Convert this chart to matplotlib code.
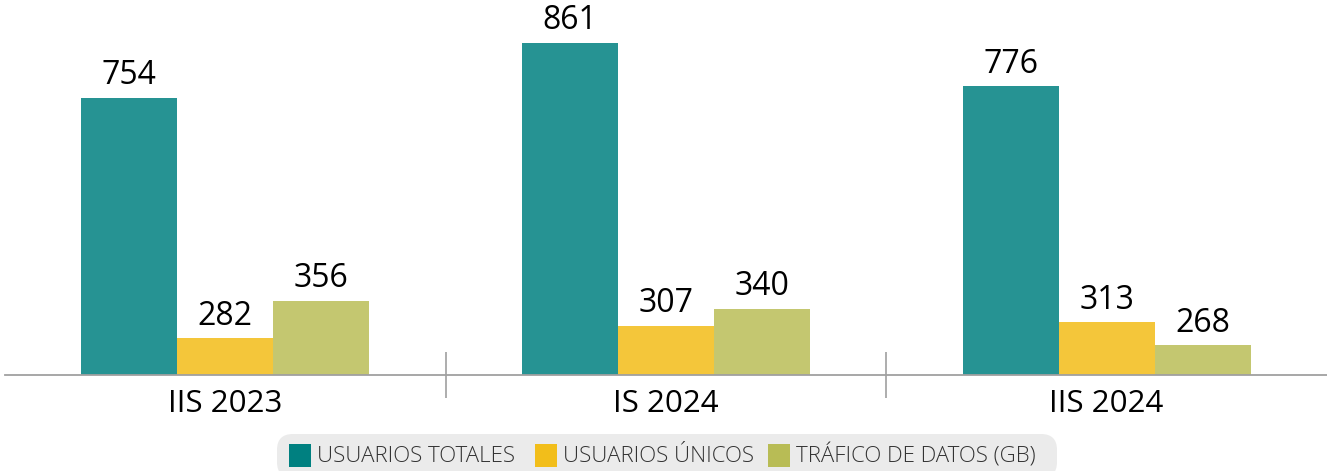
import matplotlib
matplotlib.use("Agg")
import matplotlib.pyplot as plt
import numpy as np
from matplotlib.patches import FancyBboxPatch, Rectangle

categories = ["IIS 2023", "IS 2024", "IIS 2024"]
series_names = ["USUARIOS TOTALES", "USUARIOS ÚNICOS", "TRÁFICO DE DATOS (GB)"]
usuarios_totales = [754, 861, 776]
usuarios_unicos = [282, 307, 313]
trafico_datos = [356, 340, 268]
series = [usuarios_totales, usuarios_unicos, trafico_datos]
bar_colors = ["#269393", "#f4c63a", "#c4c770"]
legend_colors = ["#008080", "#f2be1a", "#b8bc55"]

plt.rcParams['font.family'] = ['Open Sans', 'DejaVu Sans']

W, H = 1327, 471
fig = plt.figure(figsize=(W / 100, H / 100), dpi=100)
ax = fig.add_axes([5 / W, (H - 375) / H, 1 - 5 / W, 375 / H])

x = np.arange(len(categories))
bw = 0.218
ymin = 210
ax.set_ylim(ymin, ymin + 375 / 0.51)
ax.set_xlim(-0.5, 2.5)

for i, (vals, col) in enumerate(zip(series, bar_colors)):
    pos = x + (i - 1) * bw
    ax.bar(pos, np.array(vals) - ymin + 4, bottom=ymin - 4, width=bw,
           color=col, edgecolor='none', zorder=2)
    for p, v in zip(pos, vals):
        ax.annotate(str(v), (p, v), xytext=(0, 4), textcoords='offset points',
                    ha='center', va='bottom', fontsize=23, color='#000000')

for s in ['top', 'right', 'left']:
    ax.spines[s].set_visible(False)
ax.spines['bottom'].set_color('#a0a0a0')
ax.spines['bottom'].set_linewidth(1.3)
ax.spines['bottom'].set_zorder(3)
ax.set_yticks([])
ax.set_xticks(x)
ax.set_xticklabels(categories, fontsize=22.5, color='#000000')
ax.tick_params(axis='x', which='major', length=0, pad=10)
ax.set_xticks([0.5, 1.5], minor=True)
ax.tick_params(axis='x', which='minor', direction='inout', length=33,
               width=1.2, color='#a0a0a0')

# legend with rounded grey background
lx0, lx1, ly0, ly1 = 277, 1057, 434, 478
box = FancyBboxPatch((lx0 / W, 1 - ly1 / H), (lx1 - lx0) / W, (ly1 - ly0) / H,
                     boxstyle="round,pad=0,rounding_size=0.012",
                     transform=fig.transFigure, facecolor='#ebebeb',
                     edgecolor='none', zorder=0, mutation_aspect=W / H)
fig.patches.append(box)
items = [(289, 317), (535, 563), (768, 796)]
for (px, tx), name, col in zip(items, series_names, legend_colors):
    fig.patches.append(Rectangle((px / W, 1 - 467 / H), 22 / W, 23 / H,
                                 transform=fig.transFigure, facecolor=col,
                                 edgecolor='none'))
    fig.text(tx / W, 1 - 456 / H, name, fontsize=16, color='#333333',
             ha='left', va='center', fontweight='light')

fig.savefig("out.png", dpi=100)
